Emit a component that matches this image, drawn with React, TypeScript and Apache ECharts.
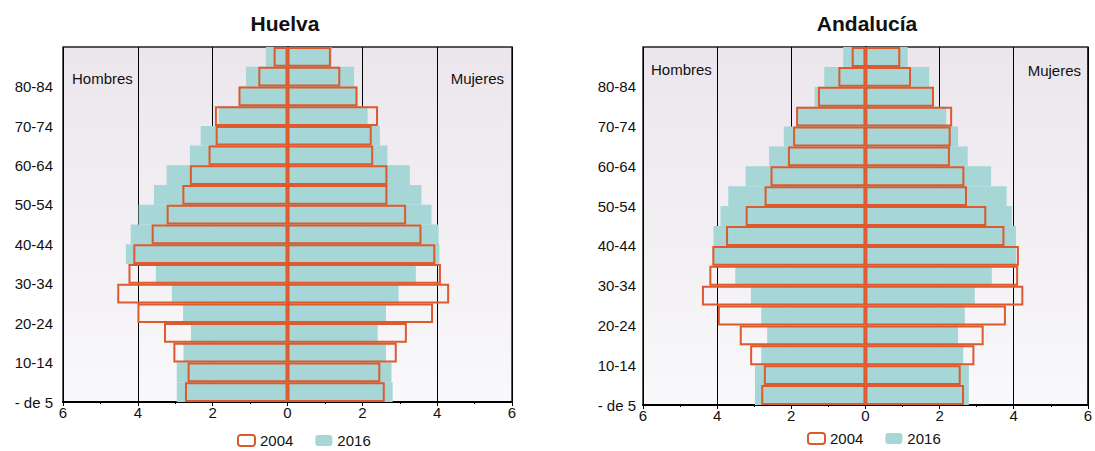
import React, { useEffect, useRef } from "react";
import * as echarts from "echarts";

const ageGroups = [
  "- de 5", "5-9", "10-14", "15-19", "20-24", "25-29", "30-34", "35-39", "40-44",
  "45-49", "50-54", "55-59", "60-64", "65-69", "70-74", "75-79", "80-84", "85+",
];

const huelvaMen2016 = [2.96, 2.96, 2.78, 2.58, 2.79, 3.09, 3.52, 4.32, 4.19, 3.98, 3.57, 3.23, 2.61, 2.32, 1.84, 1.28, 1.11, 0.58];
const huelvaWomen2016 = [2.81, 2.78, 2.63, 2.41, 2.63, 2.97, 3.43, 4.06, 4.04, 3.85, 3.58, 3.27, 2.67, 2.47, 2.14, 1.87, 1.78, 1.18];
const huelvaMen2004 = [2.74, 2.67, 3.05, 3.3, 4.01, 4.55, 4.25, 4.12, 3.63, 3.23, 2.81, 2.61, 2.11, 1.92, 1.94, 1.31, 0.78, 0.37];
const huelvaWomen2004 = [2.6, 2.48, 2.92, 3.19, 3.89, 4.32, 4.1, 3.95, 3.58, 3.17, 2.67, 2.67, 2.29, 2.25, 2.42, 1.87, 1.41, 1.16];

const andMen2016 = [2.98, 2.98, 2.81, 2.65, 2.81, 3.09, 3.51, 4.1, 4.1, 3.91, 3.7, 3.23, 2.6, 2.2, 1.83, 1.37, 1.11, 0.6];
const andWomen2016 = [2.79, 2.79, 2.64, 2.5, 2.68, 2.95, 3.41, 4.06, 4.06, 3.95, 3.81, 3.39, 2.76, 2.5, 2.18, 1.85, 1.72, 1.14];
const andMen2004 = [2.81, 2.74, 3.11, 3.39, 3.98, 4.41, 4.21, 4.13, 3.76, 3.23, 2.72, 2.56, 2.09, 1.95, 1.87, 1.28, 0.73, 0.37];
const andWomen2004 = [2.66, 2.57, 2.94, 3.19, 3.79, 4.26, 4.12, 4.14, 3.75, 3.26, 2.74, 2.67, 2.28, 2.3, 2.34, 1.85, 1.23, 0.94];

const titles = ["Huelva", "Andalucía"];
const years = ["2004", "2016"];

const FONT = "'Liberation Sans', Arial, Helvetica, sans-serif";
const TEAL = "#a6d6d6";
const ORANGE = "#dc5a2d";

export default function App() {
  const ref = useRef<HTMLDivElement>(null);

  useEffect(() => {
    if (!ref.current) return;
    const chart = echarts.init(ref.current, null, { renderer: "svg" });

    const grids = [
      { left: 63, top: 47, width: 449, height: 355 },
      { left: 643, top: 47, width: 449, height: 358 },
    ];
    const datasets = [
      { m16: huelvaMen2016, w16: huelvaWomen2016, m04: huelvaMen2004, w04: huelvaWomen2004 },
      { m16: andMen2016, w16: andWomen2016, m04: andMen2004, w04: andWomen2004 },
    ];

    const bg = new echarts.graphic.LinearGradient(0, 0, 0, 1, [
      { offset: 0, color: "#ebe6ec" },
      { offset: 1, color: "#f9f8fa" },
    ]);

    const series: any[] = [];
    datasets.forEach((d, i) => {
      const common = {
        type: "bar",
        xAxisIndex: i,
        yAxisIndex: i,
        barGap: "-100%",
        barCategoryGap: 0,
      };
      series.push({ ...common, name: "2016", data: d.m16.map((v) => -v), itemStyle: { color: TEAL } });
      series.push({ ...common, name: "2016", data: d.w16, itemStyle: { color: TEAL } });
      series.push({
        ...common, name: "2004", data: d.m04.map((v) => -v), z: 3,
        itemStyle: { color: "transparent", borderColor: ORANGE, borderWidth: 2 },
      });
      series.push({
        ...common, name: "2004", data: d.w04, z: 3,
        itemStyle: { color: "transparent", borderColor: ORANGE, borderWidth: 2 },
      });
    });

    const legendData = [
      { name: years[0], itemStyle: { color: "#ffffff", borderColor: ORANGE, borderWidth: 2 } },
      { name: years[1], itemStyle: { color: TEAL } },
    ];

    const textEl = (x: number, y: number, text: string, size: number, align: string, bold = false) => ({
      type: "text",
      x,
      y,
      style: {
        text,
        fill: "#111",
        font: `${bold ? "bold " : ""}${size}px ${FONT}`,
        textAlign: align,
        textVerticalAlign: "middle",
      },
      z: 10,
    });

    chart.setOption({
      animation: false,
      textStyle: { fontFamily: FONT },
      grid: grids.map((g) => ({
        ...g,
        show: true,
        backgroundColor: bg,
        borderColor: "#222",
        borderWidth: 1.5,
      })),
      xAxis: grids.map((_, i) => ({
        type: "value",
        gridIndex: i,
        min: -6,
        max: 6,
        interval: 2,
        axisLine: { show: true, onZero: false, lineStyle: { color: "#000", width: 2 } },
        axisTick: { show: true, length: 4, lineStyle: { color: "#000" } },
        minorTick: { show: true, splitNumber: 2, length: 2, lineStyle: { color: "#000" } },
        splitLine: { show: true, lineStyle: { color: "#000", width: 1 } },
        axisLabel: {
          color: "#111",
          fontSize: 15,
          margin: 3,
          formatter: (v: number) => String(Math.abs(v)),
        },
      })),
      yAxis: grids.map((_, i) => ({
        type: "category",
        gridIndex: i,
        data: ageGroups,
        axisLine: { show: true, lineStyle: { color: "#000", width: 2 } },
        axisTick: { show: false },
        splitLine: { show: false },
        axisLabel: {
          interval: 1,
          color: "#111",
          fontSize: 15,
          margin: i === 0 ? 10 : 7,
          formatter: (v: string) => `{a|${v}}`,
          rich: {
            a: { fontSize: 15, color: "#111", padding: [20, 0, 0, 0] },
          },
        },
      })),
      legend: [
        {
          left: 237, top: 433, padding: 0, itemWidth: 17, itemHeight: 11, itemGap: 22,
          textStyle: { fontSize: 15, color: "#111" }, data: legendData, selectedMode: false,
        },
        {
          left: 807, top: 431, padding: 0, itemWidth: 17, itemHeight: 11, itemGap: 22,
          textStyle: { fontSize: 15, color: "#111" }, data: legendData, selectedMode: false,
        },
      ],
      graphic: [
        textEl(285, 23, titles[0], 21, "center", true),
        textEl(867, 23, titles[1], 21, "center", true),
        textEl(72, 78, "Hombres", 15, "left"),
        textEl(504, 78, "Mujeres", 15, "right"),
        textEl(651, 69, "Hombres", 15, "left"),
        textEl(1081, 70, "Mujeres", 15, "right"),
      ],
      series,
    });

    return () => chart.dispose();
  }, []);

  return (
    <div
      ref={ref}
      style={{ position: "absolute", left: 0, top: 0, width: 1095, height: 451 }}
    />
  );
}
